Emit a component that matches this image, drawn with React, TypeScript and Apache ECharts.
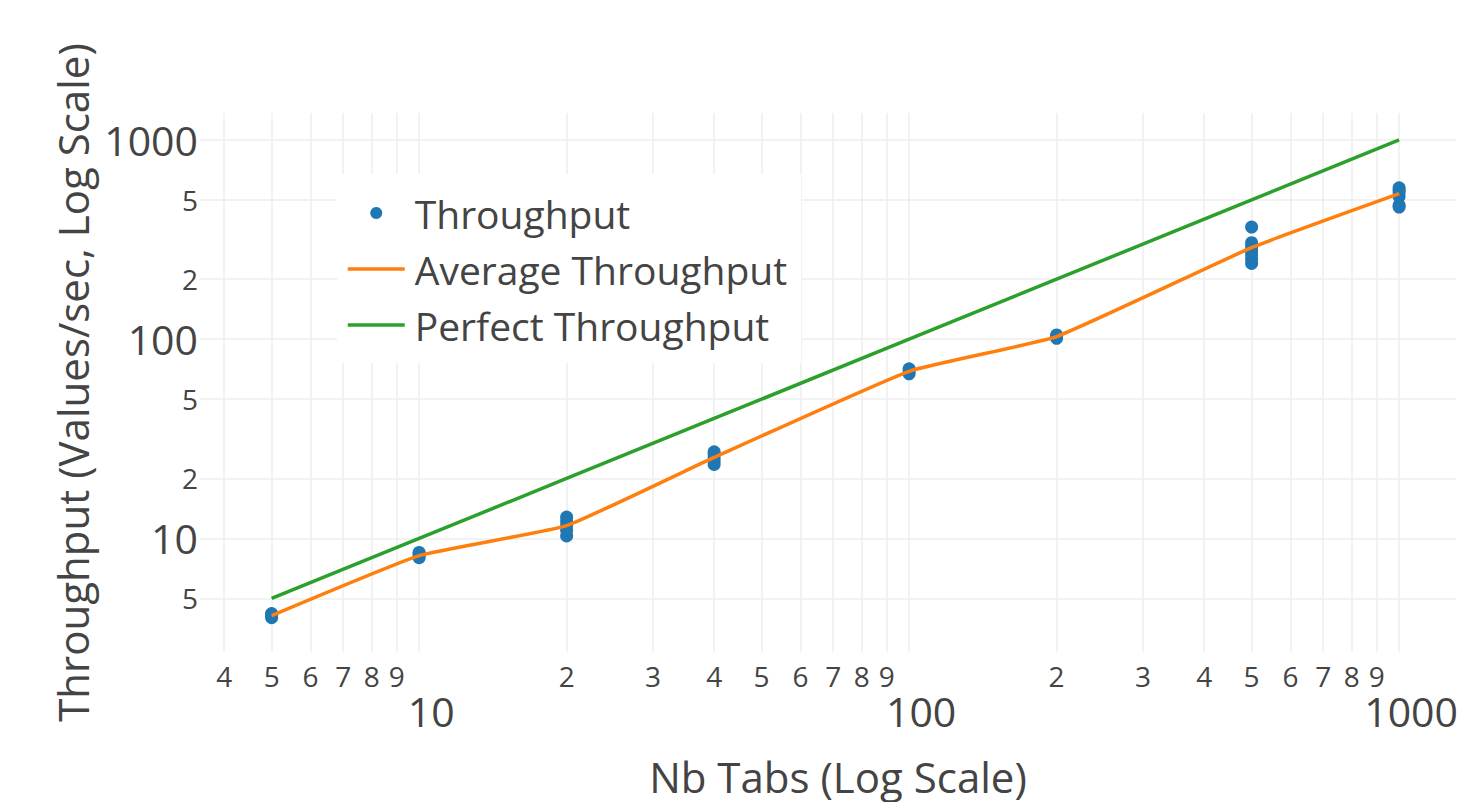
import React, { useEffect, useRef } from "react";
import * as echarts from "echarts";

const nbTabs = [5, 10, 20, 40, 100, 200, 500, 1000];
const averageThroughput = [4.1, 8.2, 11.6, 25.5, 69, 103, 288, 537];
const perfectThroughput = [5, 10, 20, 40, 100, 200, 500, 1000];

const throughputX = [
  5, 5, 5, 5,
  10, 10, 10, 10,
  20, 20, 20, 20, 20,
  40, 40, 40, 40, 40,
  100, 100, 100,
  200, 200, 200,
  500, 500, 500, 500, 500, 500, 500,
  1000, 1000, 1000, 1000, 1000, 1000,
];
const throughputY = [
  4.0, 4.1, 4.15, 4.2,
  8.0, 8.2, 8.4, 8.5,
  10.3, 11.0, 11.6, 12.2, 12.8,
  23.5, 24.5, 25.5, 26.5, 27.2,
  67, 69, 71,
  101, 103, 105,
  240, 252, 265, 278, 292, 305, 365,
  460, 470, 520, 545, 560, 575,
];

const xMinorTicks = [4, 5, 6, 7, 8, 9, 10, 20, 30, 40, 50, 60, 70, 80, 90, 100, 200, 300, 400, 500, 600, 700, 800, 900, 1000];
const xMajorTicks = [10, 100, 1000];
const yTicks = [5, 10, 20, 50, 100, 200, 500, 1000];

const isPow10 = (v: number) => Math.abs(Math.log10(v) - Math.round(Math.log10(v))) < 1e-9;
const leadDigit = (v: number) => String(Math.round(v / Math.pow(10, Math.floor(Math.log10(v) + 1e-9))));

const TEXT = "#444";
const FONT = "'Open Sans', sans-serif";

export default function App() {
  const ref = useRef<HTMLDivElement>(null);
  useEffect(() => {
    if (!ref.current) return;
    const chart = echarts.init(ref.current, undefined, { renderer: "svg" });
    const xMin = 3.571;
    const xMax = 1306;
    const yMin = 2.692;
    const yMax = 1364.6;
    chart.setOption({
      animation: false,
      backgroundColor: "#fff",
      textStyle: { fontFamily: FONT, color: TEXT },
      grid: { left: 200, top: 113, width: 1261, height: 541, containLabel: false },
      legend: {
        orient: "vertical",
        left: 337,
        top: 174,
        backgroundColor: "#fff",
        padding: [19, 14, 18, 9],
        itemWidth: 57,
        itemHeight: 12,
        itemGap: 16,
        textStyle: { fontSize: 39, color: TEXT, fontFamily: FONT, lineHeight: 40, padding: [0, 0, 0, 5] },
        data: [
          { name: "Throughput", icon: "circle" },
          { name: "Average Throughput", itemStyle: { opacity: 0 }, lineStyle: { width: 3.5 } },
          { name: "Perfect Throughput", itemStyle: { opacity: 0 }, lineStyle: { width: 3.5 } },
        ],
      },
      xAxis: [
        {
          type: "log",
          logBase: 10,
          min: xMin,
          max: xMax,
          axisLine: { show: false },
          axisTick: { show: false, customValues: xMinorTicks },
          splitLine: { show: true, lineStyle: { color: "#eeeeee", width: 1.5 } },
          axisLabel: {
            customValues: xMinorTicks,
            margin: 10,
            fontSize: 28,
            color: TEXT,
            fontFamily: FONT,
            formatter: (v: number) => (isPow10(v) ? "" : leadDigit(v)),
          },
          name: "Nb Tabs (Log Scale)",
          nameLocation: "middle",
          nameGap: 103,
          nameTextStyle: { fontSize: 42, color: TEXT, fontFamily: FONT, padding: [0, 0, 0, 20] },
        },
        {
          type: "log",
          logBase: 10,
          min: xMin,
          max: xMax,
          gridIndex: 0,
          position: "bottom",
          axisLine: { show: false },
          axisTick: { show: false, customValues: xMajorTicks },
          splitLine: { show: false },
          axisLabel: {
            customValues: xMajorTicks,
            margin: 38,
            fontSize: 41,
            color: TEXT,
            fontFamily: FONT,
            padding: [0, 0, 0, 24],
            formatter: (v: number) => String(Math.round(v)),
          },
        },
      ],
      yAxis: {
        type: "log",
        logBase: 10,
        min: yMin,
        max: yMax,
        axisLine: { show: false },
        axisTick: { show: false, customValues: yTicks },
        splitLine: { show: true, lineStyle: { color: "#eeeeee", width: 1.5 } },
        axisLabel: {
          customValues: yTicks,
          margin: 2,
          color: TEXT,
          fontFamily: FONT,
          formatter: (v: number) => (isPow10(v) ? "{b|" + Math.round(v) + "}" : "{s|" + leadDigit(v) + "}"),
          rich: {
            b: { fontSize: 41, color: TEXT, fontFamily: FONT },
            s: { fontSize: 28, color: TEXT, fontFamily: FONT },
          },
        },
        name: "Throughput (Values/sec, Log Scale)",
        nameLocation: "middle",
        nameGap: 97,
        nameTextStyle: { fontSize: 42, color: TEXT, fontFamily: FONT },
      },
      series: [
        {
          name: "Throughput",
          type: "scatter",
          xAxisIndex: 0,
          symbol: "circle",
          symbolSize: 13,
          itemStyle: { color: "#1f77b4", opacity: 1 },
          data: throughputX.map((x, i) => [x, throughputY[i]]),
        },
        {
          name: "Average Throughput",
          type: "line",
          xAxisIndex: 0,
          smooth: 0.12,
          symbol: "none",
          lineStyle: { color: "#ff7f0e", width: 3.5 },
          itemStyle: { color: "#ff7f0e" },
          data: nbTabs.map((x, i) => [x, averageThroughput[i]]),
        },
        {
          name: "Perfect Throughput",
          type: "line",
          xAxisIndex: 0,
          symbol: "none",
          lineStyle: { color: "#2ca02c", width: 3.5 },
          itemStyle: { color: "#2ca02c" },
          data: nbTabs.map((x, i) => [x, perfectThroughput[i]]),
        },
      ],
    });
    return () => chart.dispose();
  }, []);
  return (
    <div
      ref={ref}
      style={{ position: "absolute", left: 0, top: 0, width: 1461, height: 802, background: "#fff" }}
    />
  );
}
